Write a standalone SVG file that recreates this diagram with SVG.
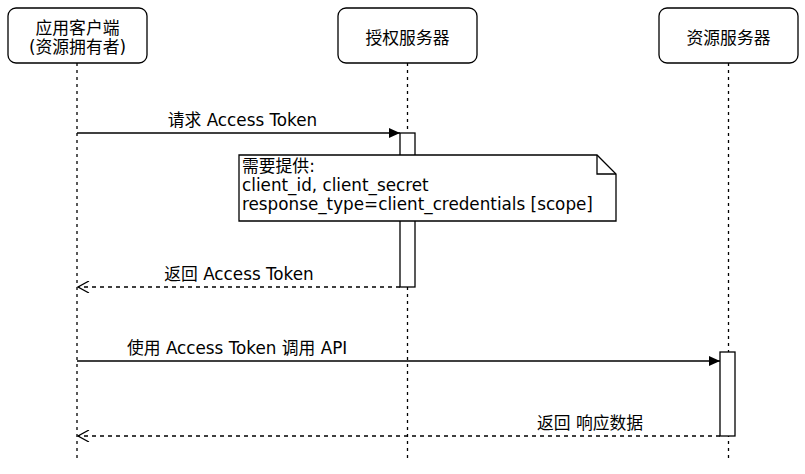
<svg xmlns="http://www.w3.org/2000/svg" width="805" height="474" viewBox="0 0 805 474">
<defs>
<style>
text{font-family:"DejaVu Sans","Noto Sans CJK SC",sans-serif;font-size:16.8px;fill:#000}
.box{fill:#fff;stroke:#000;stroke-width:1.3}
.life{stroke:#000;stroke-width:1.3;stroke-dasharray:3 4;fill:none}
.msg{stroke:#000;stroke-width:1.3;fill:none}
.ret{stroke:#000;stroke-width:1.3;stroke-dasharray:4 4;fill:none}
.act{fill:#fff;stroke:#000;stroke-width:1.3}
</style>
<marker id="block" markerWidth="12" markerHeight="10" refX="11" refY="5" orient="auto" markerUnits="userSpaceOnUse">
<path d="M0,0 L11,5 L0,10 Z" fill="#000"/>
</marker>
<marker id="open" markerWidth="14" markerHeight="12" refX="12" refY="6" orient="auto" markerUnits="userSpaceOnUse">
<path d="M1,0 L12,6 L1,12" fill="none" stroke="#000" stroke-width="1.3"/>
</marker>
</defs>
<rect width="805" height="474" fill="#fff"/>
<g id="lifelines">
<line class="life" x1="77" y1="63" x2="77" y2="460"/>
<line class="life" x1="407.5" y1="63" x2="407.5" y2="460"/>
<line class="life" x1="728.5" y1="63" x2="728.5" y2="460"/>
</g>
<g id="client">
<rect class="box" x="8" y="8" width="139" height="55" rx="8"/>
<text x="77.5" y="34" text-anchor="middle">应用客户端</text>
<text x="77.5" y="53" text-anchor="middle">(资源拥有者)</text>
</g>
<g id="auth">
<rect class="box" x="338" y="8" width="139" height="55" rx="8"/>
<text x="407.5" y="44" text-anchor="middle">授权服务器</text>
</g>
<g id="resource">
<rect class="box" x="659" y="8" width="139" height="55" rx="8"/>
<text x="728.5" y="44" text-anchor="middle">资源服务器</text>
</g>
<g id="auth-activation">
<rect class="act" x="400" y="133" width="15" height="154"/>
</g>
<g id="resource-activation">
<rect class="act" x="720" y="352" width="15" height="84"/>
</g>
<g id="note">
<path class="box" d="M239,155 L597,155 L616,174 L616,221 L239,221 Z"/>
<path d="M597,155 L597,174 L616,174" fill="none" stroke="#000" stroke-width="1.3"/>
<text x="242" y="172">需要提供:</text>
<text x="242" y="191">client_id, client_secret</text>
<text x="242" y="210">response_type=client_credentials [scope]</text>
</g>
<g id="connectors">
<line class="msg" x1="77" y1="133" x2="400" y2="133" marker-end="url(#block)"/>
<text x="242.5" y="126" text-anchor="middle">请求 Access Token</text>
<line class="ret" x1="400" y1="287" x2="78" y2="287" marker-end="url(#open)"/>
<text x="239" y="280" text-anchor="middle">返回 Access Token</text>
<line class="msg" x1="77" y1="361" x2="720" y2="361" marker-end="url(#block)"/>
<text x="127" y="354">使用 Access Token 调用 API</text>
<line class="ret" x1="720" y1="436" x2="78" y2="436" marker-end="url(#open)"/>
<text x="537" y="429">返回 响应数据</text>
</g>
</svg>
